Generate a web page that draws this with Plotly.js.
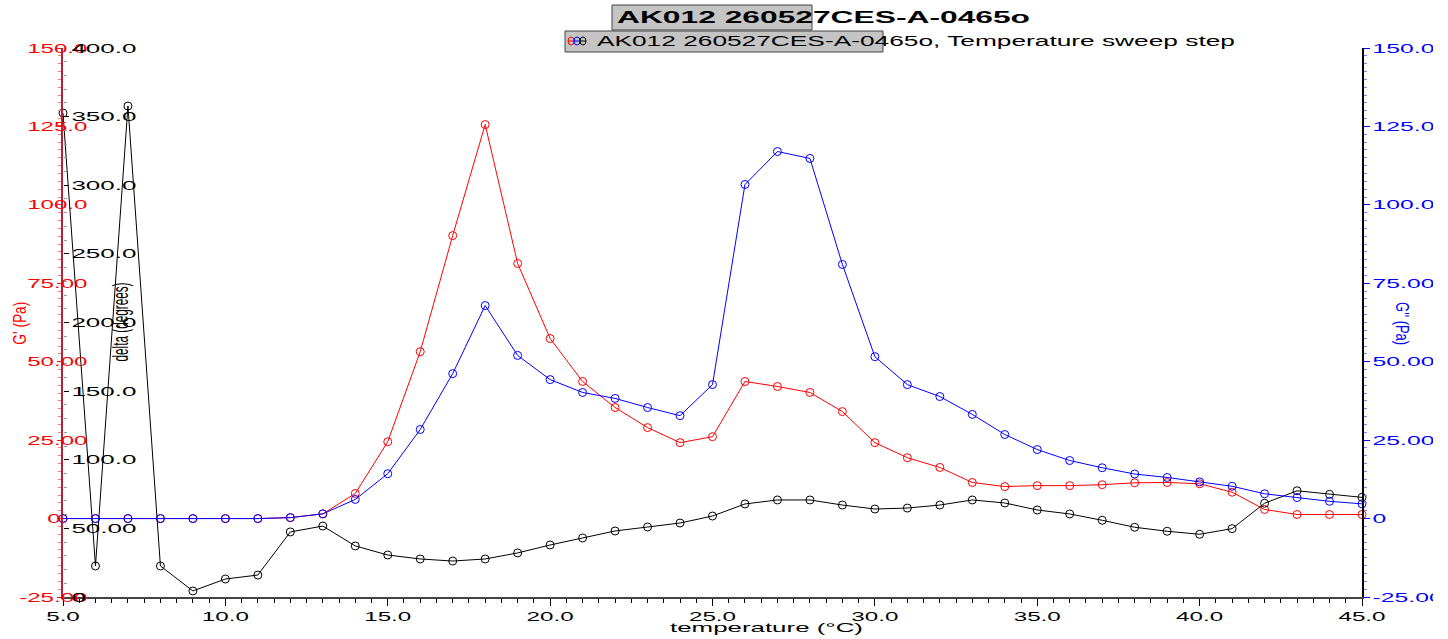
<!DOCTYPE html>
<html><head><meta charset="utf-8">
<script src="https://cdn.plot.ly/plotly-3.0.1.min.js"></script>
<style>html,body{margin:0;padding:0;background:#fff;} #chart{width:1448px;height:639px;}</style>
</head><body><div id="chart"></div>
<script>
const temperature = [5,6,7,8,9,10,11,12,13,14,15,16,17,18,19,20,21,22,23,24,25,26,27,28,29,30,31,32,33,34,35,36,37,38,39,40,41,42,43,44,45];
const gPrime = [0,0,0,0,0,0,0,0.3,1.5,8.0,24.5,53.2,90.2,125.6,81.3,57.4,43.7,35.4,29.0,24.2,26.1,43.7,42.1,40.2,34.1,24.2,19.4,16.3,11.5,10.2,10.5,10.5,10.8,11.4,11.5,11.1,8.4,2.9,1.3,1.3,1.3];
const gDoublePrime = [0,0,0,0,0,0,0,0.3,1.5,6.1,14.3,28.4,46.2,67.9,52.0,44.3,40.2,38.3,35.4,32.8,42.7,106.5,117.0,114.8,81.0,51.6,42.7,38.9,33.2,26.8,22.0,18.5,16.2,14.2,13.1,11.7,10.3,7.9,6.7,5.5,4.7];
const delta = [352.6,22.6,357.7,22.6,4.4,13.1,16.0,47.4,51.7,37.2,30.6,27.7,26.2,27.7,32.1,37.9,43.0,48.1,51.0,53.9,59.0,67.8,70.7,70.7,67.0,64.1,64.8,67.0,70.7,68.5,63.4,60.5,55.9,50.8,47.9,45.7,49.8,68.3,77.4,74.8,72.6];

const xTickVals = [5,10,15,20,25,30,35,40,45];
const xTickText = ['5.0','10.0','15.0','20.0','25.0','30.0','35.0','40.0','45.0'];
const gTickVals = [-25,0,25,50,75,100,125,150];
const gTickText = ['-25.00','0','25.00','50.00','75.00','100.0','125.0','150.0'];
const deltaTickVals = [0,50,100,150,200,250,300,350,400];
const deltaTickText = ['0','50.00','100.0','150.0','200.0','250.0','300.0','350.0','400.0'];

const chartTitle = 'AK012 260527CES-A-0465o';
const legendText = 'AK012 260527CES-A-0465o, Temperature sweep step';
const xTitle = 'temperature (°C)';
const gPrimeTitle = "G' (Pa)";
const gDoublePrimeTitle = "G'' (Pa)";
const deltaTitle = 'delta (degrees)';

const W = 1448, H = 639, L = 63, R = 1362, T = 48, B = 597;
const px = x => (x - L) / (R - L);
const py = y => (B - y) / (B - T);
const FONT = 'Liberation Sans, Arial, sans-serif';

const mk = c => ({symbol: 'circle-open', size: 8, color: c, line: {width: 1, color: c}});
const traces = [
  {x: temperature, y: gPrime, yaxis: 'y', mode: 'lines+markers', line: {color: '#ff0000', width: 1}, marker: mk('#ff0000'), cliponaxis: false, name: "G'"},
  {x: temperature, y: gDoublePrime, yaxis: 'y3', mode: 'lines+markers', line: {color: '#0000ff', width: 1}, marker: mk('#0000ff'), cliponaxis: false, name: "G''"},
  {x: temperature, y: delta, yaxis: 'y2', mode: 'lines+markers', line: {color: '#000000', width: 1}, marker: mk('#000000'), cliponaxis: false, name: 'delta'}
];

const ann = (x, y, text, size, color, angle) => ({xref: 'paper', yref: 'paper', x: px(x), y: py(y), text, showarrow: false, xanchor: 'center', yanchor: 'middle', textangle: angle || 0, font: {family: FONT, size, color}});

const iconShapes = [];
[['#ff0000', 571], ['#0000ff', 577], ['#000000', 583]].forEach(([c, cx]) => {
  iconShapes.push({type: 'circle', xref: 'paper', yref: 'paper', x0: px(cx - 3), x1: px(cx + 3), y0: py(45), y1: py(37), line: {color: c, width: 1}, layer: 'below'});
  iconShapes.push({type: 'line', xref: 'paper', yref: 'paper', x0: px(cx - 3), x1: px(cx + 3), y0: py(41), y1: py(41), line: {color: c, width: 1}, layer: 'below'});
});

// red axis labels are centred on the axis line in the reference; pad the lone "0"
const redTickText = gTickText.map(t => t === '0' ? t + '\u00a0\u00a0\u00a0\u00a0' : t);

const layout = {
  width: W, height: H,
  margin: {l: L, r: W - R, t: T, b: H - B, pad: 0},
  paper_bgcolor: '#ffffff', plot_bgcolor: '#ffffff', showlegend: false,
  font: {family: FONT, size: 13, color: '#000'},
  title: {text: chartTitle, font: {family: FONT, size: 17, weight: 'bold', color: '#000'}, xref: 'container', x: 823.5 / W, xanchor: 'center', yref: 'container', y: 1 - 17 / H, yanchor: 'middle'},
  xaxis: {range: [5, 45], tickmode: 'array', tickvals: xTickVals, ticktext: xTickText, ticks: 'outside', ticklen: 7, tickwidth: 1, tickcolor: '#000',
    minor: {tickmode: 'linear', tick0: 0, dtick: 0.5, ticks: 'outside', ticklen: 4, tickcolor: '#000'}, ticklabeloverflow: 'allow',
    showline: true, linecolor: '#444', linewidth: 1.5, showgrid: false, zeroline: false, tickfont: {family: FONT, size: 13, color: '#000'}},
  yaxis: {range: [-25, 150], tickmode: 'array', tickvals: gTickVals, ticktext: redTickText, ticks: 'outside', ticklen: 4, tickcolor: '#e02020',
    minor: {tickmode: 'linear', tick0: 0, dtick: 2.5, ticks: 'outside', ticklen: 3, tickcolor: '#f08080'}, ticklabeloverflow: 'allow',
    showline: true, linecolor: '#b4233c', linewidth: 2, showgrid: false, zeroline: false, tickfont: {family: FONT, size: 13, color: '#ff0000'}, ticklabelstandoff: -33},
  yaxis2: {range: [0, 400], overlaying: 'y', anchor: 'free', position: 0, side: 'left', tickmode: 'array', tickvals: deltaTickVals, ticktext: deltaTickText,
    ticks: 'inside', ticklen: 5, tickcolor: '#000', minor: {tickmode: 'linear', tick0: 0, dtick: 10, ticks: 'inside', ticklen: 3, tickcolor: '#999'},
    ticklabelposition: 'inside', ticklabeloverflow: 'allow', ticklabelstandoff: 2, showline: false, showgrid: false, zeroline: false, tickfont: {family: FONT, size: 13, color: '#000'}},
  yaxis3: {range: [-25, 150], overlaying: 'y', anchor: 'x', side: 'right', tickmode: 'array', tickvals: gTickVals, ticktext: gTickText,
    ticks: 'outside', ticklen: 6, tickcolor: '#0000ff', minor: {tickmode: 'linear', tick0: 0, dtick: 2.5, ticks: 'outside', ticklen: 3, tickcolor: '#8080ff'}, ticklabeloverflow: 'allow',
    showline: true, linecolor: '#000', linewidth: 2, showgrid: false, zeroline: false, tickfont: {family: FONT, size: 13, color: '#0000ff'}},
  annotations: [
    ann(19, 323, gPrimeTitle, 19, '#ff0000', -90),
    ann(120, 322, deltaTitle, 22, '#000000', -90),
    ann(1403, 323, gDoublePrimeTitle, 19, '#0000ff', 90),
    ann(766, 627, xTitle, 13, '#000000', 0),
    ann(916, 41, legendText, 14, '#000000', 0)
  ],
  shapes: [
    {type: 'rect', xref: 'paper', yref: 'paper', x0: px(612), x1: px(812), y0: py(30), y1: py(5), fillcolor: '#c4c4c4', line: {color: '#444', width: 1}, layer: 'below'},
    {type: 'rect', xref: 'paper', yref: 'paper', x0: px(565), x1: px(883), y0: py(52), y1: py(31), fillcolor: '#c4c4c4', line: {color: '#444', width: 1}, layer: 'below'},
    ...iconShapes,
    {type: 'rect', xref: 'paper', yref: 'paper', x0: px(1433), x1: px(1450), y0: py(640), y1: py(-2), fillcolor: '#ffffff', line: {width: 0}, layer: 'above'}
  ]
};

function setLen(t, len) { t.setAttribute('textLength', len); t.setAttribute('lengthAdjust', 'spacingAndGlyphs'); }
function stretch(sel, k) { document.querySelectorAll(sel).forEach(t => { const w = t.getComputedTextLength(); if (w > 0) setLen(t, w * k); }); }

Plotly.newPlot('chart', traces, layout, {staticPlot: true}).then(gd => {
  stretch('.xtick text', 1.86);
  stretch('.ytick text', 1.85);
  stretch('.y2tick text', 2.0);
  stretch('.y3tick text', 1.9);
  const g = document.querySelector('.gtitle'); if (g) setLen(g, 413);
  const targets = {0: 43, 1: 79, 2: 43, 3: 193, 4: 638};
  document.querySelectorAll('g.annotation').forEach(a => {
    const i = a.getAttribute('data-index');
    const t = a.querySelector('text.annotation-text');
    if (t && targets[i] !== undefined) setLen(t, targets[i]);
  });
});
</script>
</body></html>
